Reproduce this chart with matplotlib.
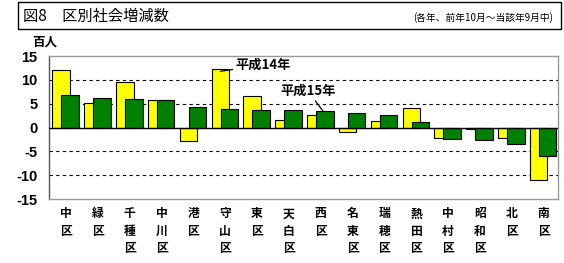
import matplotlib
matplotlib.use("Agg")
import matplotlib.pyplot as plt
from matplotlib.patches import Rectangle

plt.rcParams["font.family"] = ["Noto Sans CJK JP", "DejaVu Sans"]

WARDS = ["中区", "緑区", "千種区", "中川区", "港区", "守山区", "東区", "天白区",
         "西区", "名東区", "瑞穂区", "熱田区", "中村区", "昭和区", "北区", "南区"]
H14 = [12.0, 5.2, 9.6, 5.8, -2.8, 12.2, 6.6, 1.6,
       2.6, -1.0, 1.4, 4.0, -2.2, -0.4, -2.2, -11.0]
H15 = [6.8, 6.2, 6.0, 5.8, 4.4, 3.8, 3.6, 3.6,
       3.4, 3.0, 2.6, 1.2, -2.4, -2.6, -3.4, -6.0]
YTICKS = [15, 10, 5, 0, -5, -10, -15]

fig = plt.figure(figsize=(5.64, 2.63), dpi=100)

# title box
fig.patches.append(Rectangle((0.032, 0.890), 0.962, 0.103, transform=fig.transFigure,
                             fill=False, edgecolor="black", linewidth=1.0))
fig.text(0.040, 0.938, "図8　区別社会増減数", fontsize=11, va="center", ha="left")
fig.text(0.980, 0.932, "(各年、前年10月～当該年9月中)", fontsize=7, va="center", ha="right")
fig.text(0.058, 0.840, "百人", fontsize=9, fontweight="bold", va="center", ha="left")

ax = fig.add_axes([0.086, 0.243, 0.903, 0.544])
x = list(range(len(WARDS)))
ax.bar([i - 0.15 for i in x], H14, width=0.55, color="#ffff00",
       edgecolor="black", linewidth=0.8, zorder=2)
ax.bar([i + 0.13 for i in x], H15, width=0.55, color="#008000",
       edgecolor="black", linewidth=0.8, zorder=3)

for v in [10, 5, -5, -10]:
    ax.axhline(v, color="black", linestyle=(0, (3, 3)), linewidth=0.8, zorder=1)
ax.axhline(0, color="black", linewidth=1.0, zorder=4)

ax.set_xlim(-0.55, 15.45)
ax.set_ylim(-15, 15)
ax.set_yticks(YTICKS)
ax.set_yticklabels([str(t) for t in YTICKS], fontsize=10.5, fontweight="bold",
                   family="Liberation Sans")
ax.tick_params(axis="y", length=0, pad=8)
ax.set_xticks(x)
ax.set_xticklabels(["\n".join(w) for w in WARDS], fontsize=8.5, fontweight="bold",
                   linespacing=1.45, va="top")
ax.tick_params(axis="x", length=0, pad=6)
for s in ax.spines.values():
    s.set_color("#999999")
    s.set_linewidth(1.0)
ax.spines["left"].set_color("#555555")

# series labels with leader lines
ax.annotate("平成14年", xy=(4.85, 11.8), xytext=(5.32, 13.1),
            fontsize=9.5, fontweight="bold", va="center", ha="left", zorder=6,
            arrowprops=dict(arrowstyle="-", color="black", linewidth=0.9,
                            shrinkA=0, shrinkB=0))
ax.annotate("平成15年", xy=(8.08, H15[8]), xytext=(7.6, 7.65),
            fontsize=9.5, fontweight="bold", va="center", ha="center", zorder=6,
            arrowprops=dict(arrowstyle="-", color="black", linewidth=0.9,
                            shrinkA=0, shrinkB=0))

fig.savefig("out.png", dpi=100)
